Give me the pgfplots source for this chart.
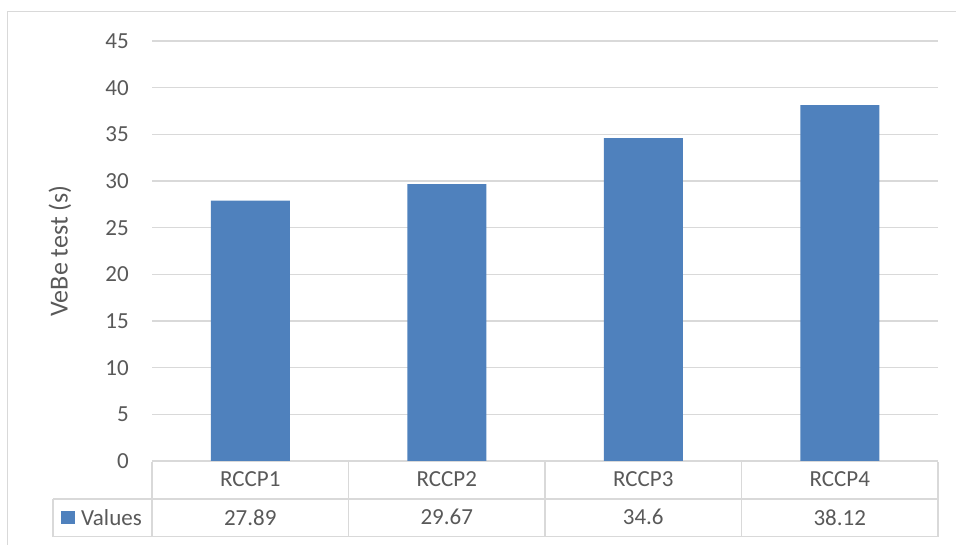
\documentclass[border=0pt]{standalone}
\usepackage{pgfplots}
\pgfplotsset{compat=1.18}
\usepackage{pgfplotstable}
\usepackage{fontspec}
\setmainfont{Carlito}

\definecolor{barblue}{HTML}{4F81BD}
\definecolor{txtgray}{HTML}{595959}
\definecolor{linegray}{HTML}{D9D9D9}

% VeBe test times per mix
\pgfplotstableread{
x val
0 27.89
1 29.67
2 34.6
3 38.12
}\vebe

\begin{document}
\begin{tikzpicture}
\useasboundingbox (0,0) rectangle (956bp,545bp);
\clip (0,0) rectangle (956bp,545bp);
% chart frame (cut off at right and bottom)
\draw[linegray, line width=1.3bp] (7.3bp,-20bp) rectangle (1000bp,533.5bp);

\begin{axis}[
    at={(152bp,84bp)}, anchor=south west,
    scale only axis, width=786bp, height=420bp,
    xmin=-0.5, xmax=3.5, ymin=0, ymax=45,
    ytick={0,5,...,45},
    xtick=data, xticklabels={RCCP1,RCCP2,RCCP3,RCCP4},
    ymajorgrids, grid style={linegray, line width=1.3bp},
    axis line style={draw=none},
    major tick length=0pt,
    clip=false,
    /pgf/number format/assume math mode=true,
    tick label style={font=\fontsize{23bp}{27bp}\selectfont, text=txtgray},
    yticklabel style={anchor=east, inner sep=0pt, xshift=-23bp},
    xticklabel style={anchor=center, inner sep=0pt, yshift=-18.3bp},
    ylabel={VeBe test (s)},
    ylabel style={at={(axis description cs:-0.117,0.5)}, anchor=center,
        font=\fontsize{26bp}{30bp}\selectfont, text=txtgray},
]
\addplot[ybar, bar width=79bp, fill=barblue, draw=none] table[x=x, y=val] {\vebe};
% values row of the data table
\addplot[draw=none, mark=none, forget plot, nodes near coords, point meta=explicit,
    nodes near coords style={anchor=center, inner sep=0pt,
        font=\fontsize{23bp}{27bp}\selectfont, text=txtgray}]
    table[x=x, y expr=-6.03, meta=val] {\vebe};
\end{axis}

% data table grid
\begin{scope}[linegray, line width=1.3bp]
\draw (152bp,83.3bp) -- (938bp,83.3bp);
\draw (53bp,46bp) -- (938bp,46bp);
\draw (53bp,8.3bp) -- (938bp,8.3bp);
\draw (53bp,8.3bp) -- (53bp,46bp);
\foreach \xx in {152,348.5,545,741.5,938}
    \draw (\xx bp,8.3bp) -- (\xx bp,83.3bp);
\end{scope}
\fill[barblue] (61bp,21bp) rectangle (75bp,34bp);
\node[anchor=west, inner sep=0pt, text=txtgray, font=\fontsize{23bp}{27bp}\selectfont]
    at (81bp,27.5bp) {Values};
\end{tikzpicture}
\end{document}
